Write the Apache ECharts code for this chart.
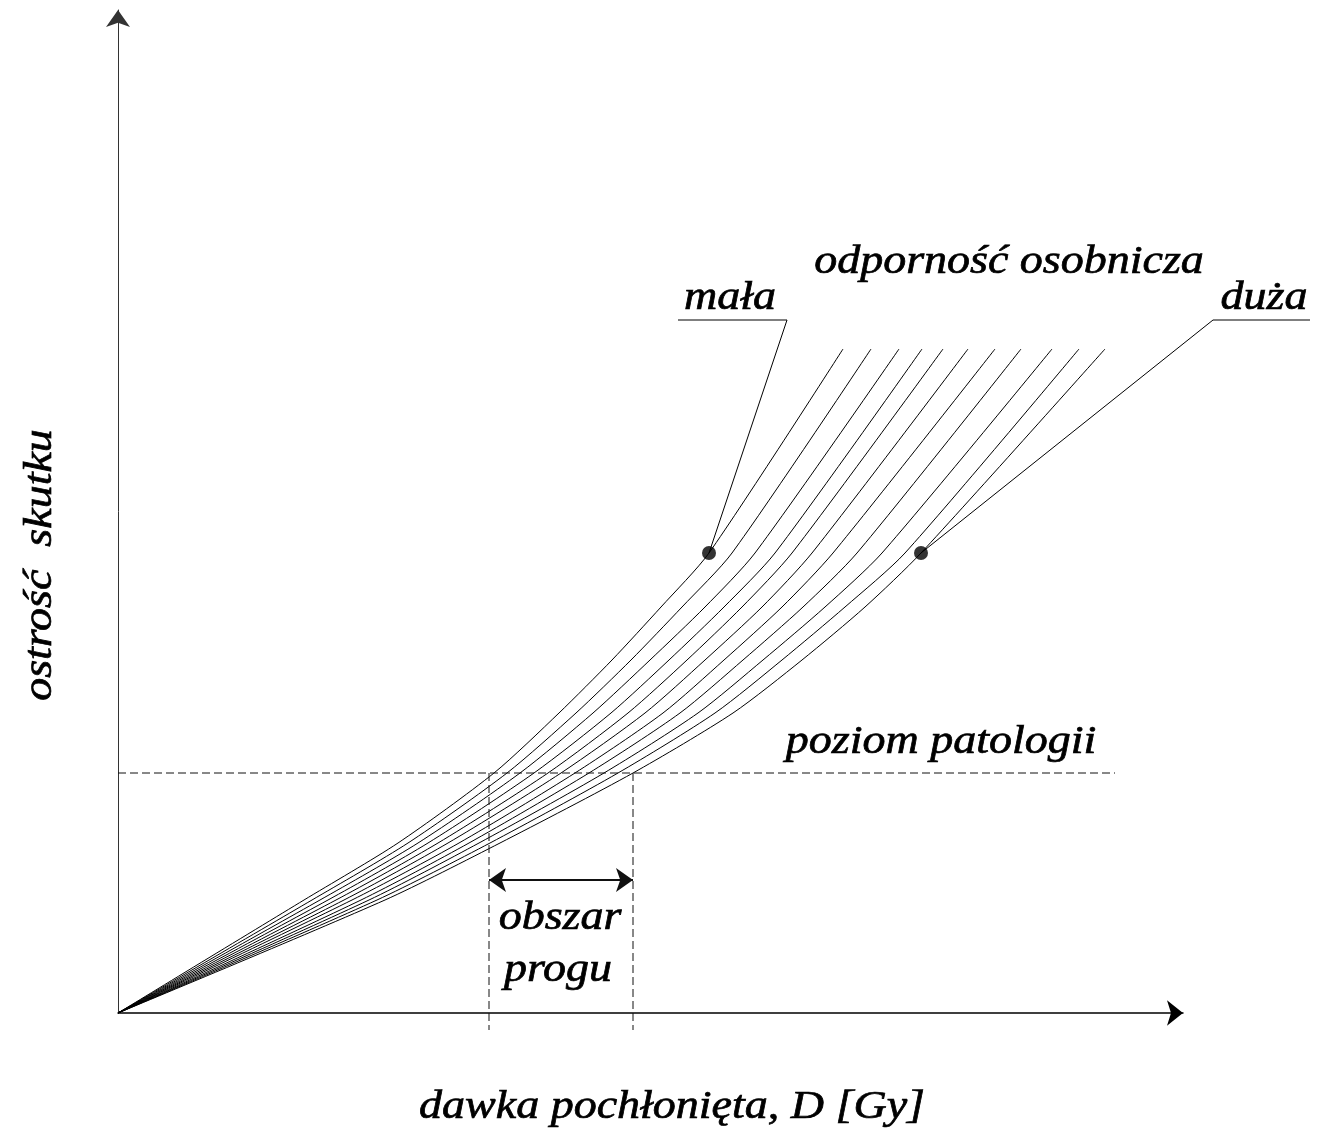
<!DOCTYPE html>
<html>
<head>
<meta charset="utf-8">
<script src="https://cdn.jsdelivr.net/npm/echarts@6/dist/echarts.min.js"></script>
<style>
html,body{margin:0;padding:0;background:#fff;}
#chart{width:1320px;height:1135px;}
</style>
</head>
<body>
<div id="chart"></div>
<script>
// severity levels (y) at which each curve's dose (x) was read
const severityLevels = [0, 1.13, 1.70, 2.40, 3.00, 3.53, 4.06, 4.60, 6.64];
// dose values of the 11 curves (from "mała" to "duża" individual resistance)
const curve1  = [0, 1.86, 2.80, 3.76, 4.41, 4.94, 5.43, 5.91, 7.25];
const curve2  = [0, 1.94, 2.90, 3.89, 4.58, 5.13, 5.64, 6.14, 7.53];
const curve3  = [0, 2.02, 3.00, 4.02, 4.75, 5.32, 5.87, 6.37, 7.81];
const curve4  = [0, 2.10, 3.10, 4.16, 4.93, 5.51, 6.06, 6.57, 8.04];
const curve5  = [0, 2.18, 3.20, 4.30, 5.10, 5.69, 6.24, 6.74, 8.25];
const curve6  = [0, 2.26, 3.30, 4.43, 5.27, 5.87, 6.44, 6.94, 8.50];
const curve7  = [0, 2.34, 3.41, 4.57, 5.45, 6.06, 6.64, 7.15, 8.77];
const curve8  = [0, 2.43, 3.51, 4.71, 5.62, 6.25, 6.85, 7.39, 9.03];
const curve9  = [0, 2.51, 3.61, 4.86, 5.80, 6.45, 7.07, 7.64, 9.34];
const curve10 = [0, 2.59, 3.72, 5.00, 5.97, 6.64, 7.27, 7.87, 9.61];
const curve11 = [0, 2.67, 3.82, 5.15, 6.15, 6.84, 7.47, 8.03, 9.87];
const curves = [curve1, curve2, curve3, curve4, curve5, curve6, curve7, curve8, curve9, curve10, curve11];

const pathologyLevel = 2.40;
const pathologyLineEnd = 9.97;
const thresholdRange = [3.71, 5.15];
const thresholdDrop = -0.17;
const arrowLevel = 1.33;
const malaDot = [5.91, 4.60];
const duzaDot = [8.03, 4.60];
const malaLeader = [[5.91, 4.60], [6.69, 6.93], [5.60, 6.93]];
const duzaLeader = [[8.03, 4.60], [10.95, 6.93], [11.92, 6.93]];

const textStyleBase = { font: 'italic 40px "Liberation Serif", "Times New Roman", serif', fill: '#000', stroke: '#000', lineWidth: 0.7, align: 'center', verticalAlign: 'middle' };

const series = [];
curves.forEach(function (c, i) {
  series.push({
    type: 'line', name: 'c' + (i + 1),
    data: c.map(function (x, k) { return [x, severityLevels[k]]; }),
    showSymbol: false, smooth: 0.25,
    lineStyle: { color: '#000', width: 1 }, silent: true, z: 3
  });
});
// pathology level dashed line
series.push({
  type: 'line', data: [[0, pathologyLevel], [pathologyLineEnd, pathologyLevel]],
  showSymbol: false, lineStyle: { color: '#111', width: 1, type: [8, 4] }, silent: true
});
// threshold verticals
thresholdRange.forEach(function (x) {
  series.push({
    type: 'line', clip: false, data: [[x, pathologyLevel], [x, thresholdDrop]],
    showSymbol: false, lineStyle: { color: '#111', width: 1, type: [8, 4] }, silent: true
  });
});
// double-headed arrow
series.push({
  type: 'line', data: [], silent: true,
  markLine: {
    silent: true, symbol: ['arrow', 'arrow'], symbolSize: [18, 17],
    label: { show: false },
    lineStyle: { color: '#111', width: 2, type: 'solid' },
    data: [[{ coord: [thresholdRange[0], arrowLevel] }, { coord: [thresholdRange[1], arrowLevel] }]]
  }
});
// dots
series.push({
  type: 'scatter', data: [malaDot, duzaDot], symbolSize: 14,
  itemStyle: { color: '#000' }, silent: true, z: 5
});

const chart = echarts.init(document.getElementById('chart'), null, { renderer: 'canvas' });
chart.setOption({
  animation: false,
  backgroundColor: '#fff',
  grid: { left: 118, right: 137, top: 10, bottom: 122, containLabel: false },
  xAxis: {
    type: 'value', min: 0, max: 10.65,
    axisLine: { show: true, onZero: true, lineStyle: { color: '#000', width: 1.5 }, symbol: ['none', 'arrow'], symbolSize: [19, 16] },
    axisTick: { show: false }, axisLabel: { show: false }, splitLine: { show: false }
  },
  yAxis: {
    type: 'value', min: 0, max: 10.03,
    axisLine: { show: true, lineStyle: { color: '#333', width: 1 }, symbol: ['none', 'arrow'], symbolSize: [18, 17] },
    axisTick: { show: false }, axisLabel: { show: false }, splitLine: { show: false }
  },
  series: series
});

// leader lines placed through the chart's own coordinate conversion
function toPx(p) { return chart.convertToPixel({ gridIndex: 0 }, p); }
const leaderGraphics = [malaLeader, duzaLeader].map(function (d) {
  return { type: 'polyline', silent: true, z: 4, shape: { points: d.map(toPx) }, style: { stroke: '#000', lineWidth: 1, fill: null } };
});

function label(text, x, y, rot) {
  const g = { type: 'text', x: x, y: y, scaleX: 1.15, style: Object.assign({}, textStyleBase, { text: text }) };
  if (rot) g.rotation = rot;
  return g;
}

chart.setOption({
  graphic: leaderGraphics.concat([
    label('odporność osobnicza', 1009, 262),
    label('mała', 730, 298),
    label('duża', 1264, 298),
    label('poziom patologii', 941, 742),
    label('obszar', 560, 918),
    label('progu', 558, 970),
    label('dawka pochłonięta, D [Gy]', 672, 1107),
    label('ostrość  skutku', 40, 565, Math.PI / 2)
  ])
});
</script>
</body>
</html>
